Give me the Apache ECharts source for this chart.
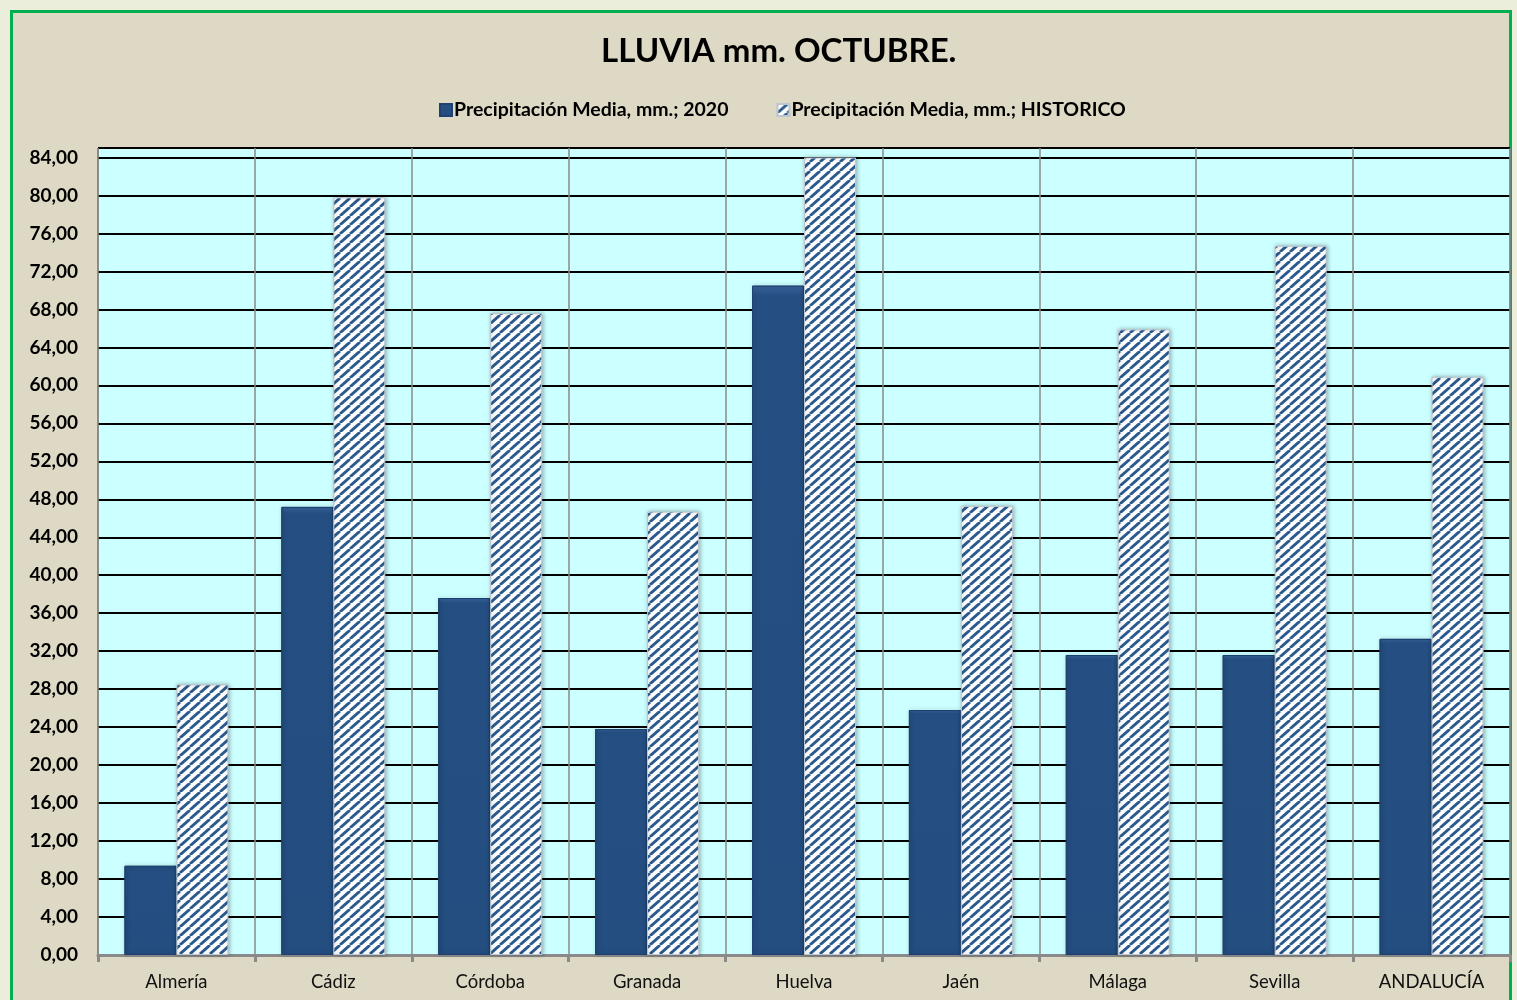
<!DOCTYPE html>
<html>
<head>
<meta charset="utf-8">
<script src="https://cdn.jsdelivr.net/npm/echarts@6/dist/echarts.min.js"></script>
<style>
  html, body { margin: 0; padding: 0; }
  body { width: 1517px; height: 1000px; background: #eceedc; position: relative; overflow: hidden; }
  #frame { position: absolute; left: 10px; top: 10px; width: 1502px; height: 1000px;
           border: 3px solid #00b050; background: #ddd9c4; box-sizing: border-box; }
  #container { position: absolute; left: 0; top: 0; width: 1517px; height: 1000px; }
</style>
</head>
<body>
<div id="frame"></div>
<div id="container"></div>
<script>
var categories = ['Almería', 'Cádiz', 'Córdoba', 'Granada', 'Huelva', 'Jaén', 'Málaga', 'Sevilla', 'ANDALUCÍA'];
var lluvia2020 = [9.4, 47.2, 37.6, 23.8, 70.5, 25.8, 31.6, 31.6, 33.3];
var lluviaHistorico = [28.5, 79.8, 67.6, 46.7, 84.0, 47.3, 65.9, 74.7, 60.9];
var seriesNames = ['Precipitación Media, mm.; 2020', 'Precipitación Media, mm.; HISTORICO'];

var fontName = 'Lato, "Open Sans", sans-serif';

// rayado diagonal para la serie historica
function stripes(){
    let w = 10, h = 9;
    let c = document.createElement('canvas');
    c.width = w; c.height = h;
    let ctx = c.getContext('2d');
    ctx.fillStyle = '#ffffff';
    ctx.fillRect(0, 0, w, h);
    ctx.strokeStyle = '#2b5a8e';
    ctx.lineWidth = 2.8;
    for (let k = -w; k <= w; k += w) {
        ctx.beginPath();
        ctx.moveTo(k, h);
        ctx.lineTo(k + w, 0);
        ctx.stroke();
    }
    return c;
}

function init(){
    let myChart = echarts.init(document.getElementById('container'));
    let option = {
        backgroundColor: 'transparent',
        textStyle: { fontFamily: fontName },
        title: {
            text: 'LLUVIA mm. OCTUBRE.',
            left: 596,
            top: 30,
            textStyle: { fontSize: 33, fontWeight: 'bold', color: '#000', fontFamily: fontName }
        },
        legend: {
            top: 95,
            left: 434,
            itemGap: 48,
            itemWidth: 12,
            itemHeight: 12,
            icon: 'rect',
            textStyle: { fontSize: 19.5, fontWeight: 'bold', color: '#000', fontFamily: fontName, padding: [0, 0, 0, -3] },
            data: seriesNames
        },
        grid: {
            left: 98, right: 7, top: 148, bottom: 45,
            show: true,
            backgroundColor: '#ccffff',
            borderColor: '#444',
            borderWidth: 1
        },
        xAxis: {
            type: 'category',
            data: categories,
            axisLine: { lineStyle: { color: '#8a8a8a', width: 3 } },
            axisTick: { show: true, length: 7, lineStyle: { color: '#8a8a8a', width: 3 } },
            splitLine: { show: true, lineStyle: { color: '#8a8a8a', width: 1.5 } },
            axisLabel: { fontSize: 18.5, color: '#111', margin: 18, fontFamily: fontName }
        },
        yAxis: {
            type: 'value',
            min: 0,
            max: 85,
            interval: 4,
            axisLine: { show: false },
            axisTick: { show: false },
            splitLine: { lineStyle: { color: '#000', width: 2 } },
            axisLabel: {
                fontSize: 19, fontWeight: 'bold', color: '#000', margin: 20, fontFamily: fontName,
                formatter: function (v) { return v > 84 ? '' : v.toFixed(2).replace('.', ','); }
            }
        },
        series: [
            {
                name: seriesNames[0],
                type: 'bar',
                data: lluvia2020,
                barWidth: 52,
                barGap: '0%',
                itemStyle: {
                    color: {
                        type: 'linear', x: 0, y: 0, x2: 0, y2: 1,
                        colorStops: [
                            { offset: 0, color: '#3a66a0' },
                            { offset: 0.015, color: '#254f82' },
                            { offset: 1, color: '#244d80' }
                        ]
                    },
                    borderColor: '#1d4170',
                    borderWidth: 1,
                    shadowColor: 'rgba(0,0,0,0.3)',
                    shadowBlur: 4,
                    shadowOffsetX: 1
                }
            },
            {
                name: seriesNames[1],
                type: 'bar',
                data: lluviaHistorico,
                barWidth: 52,
                barGap: '0%',
                itemStyle: {
                    color: { image: stripes(), repeat: 'repeat' },
                    borderColor: '#bcc6d0',
                    borderWidth: 1,
                    shadowColor: 'rgba(0,0,0,0.3)',
                    shadowBlur: 4,
                    shadowOffsetX: 1
                }
            }
        ]
    };
    myChart.setOption(option, true);
}

init();
</script>
</body>
</html>
